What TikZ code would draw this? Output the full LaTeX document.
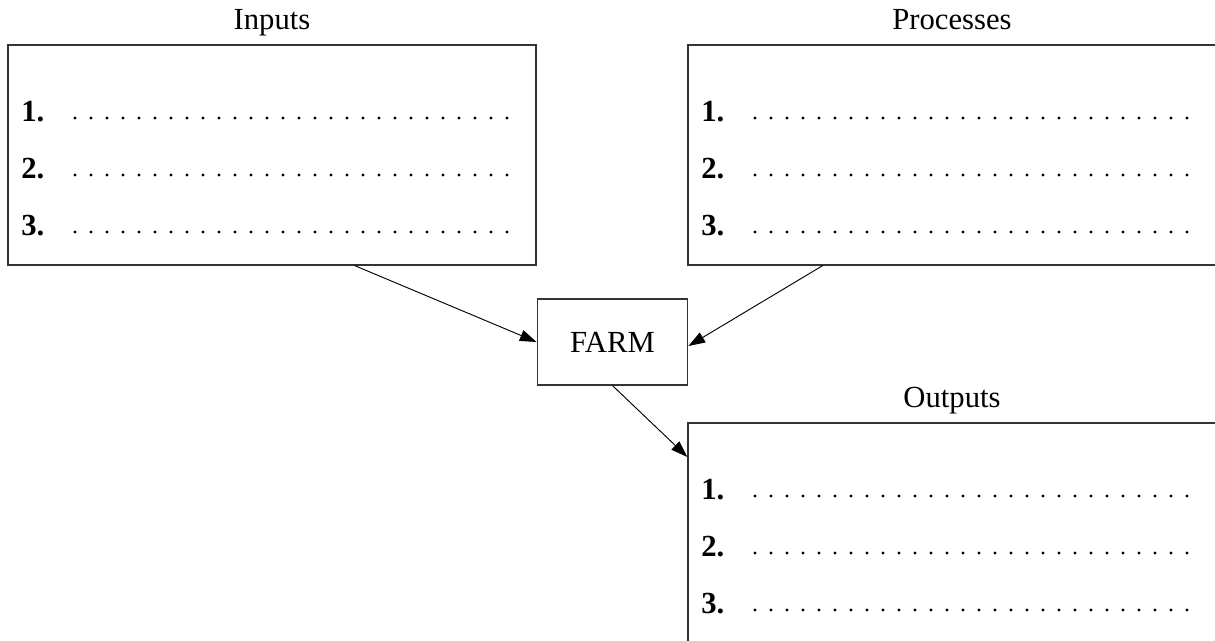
\documentclass[tikz,border=0pt]{standalone}
\usepackage{fontspec}
\setmainfont{Liberation Serif}
\usetikzlibrary{positioning, arrows.meta}

\tikzset{
  box/.style={draw=black!80, line width=0.9pt, minimum width=396pt, minimum height=165pt, inner sep=0pt},
  farmbox/.style={draw=black!80, line width=0.9pt, minimum width=113pt, minimum height=64.5pt},
  lbl/.style={anchor=base, inner sep=0pt},
  num/.style={anchor=base west, inner sep=0pt, font=\fontsize{23}{27}\selectfont\bfseries},
  dotrow/.style={line width=2.4pt, line cap=round, dash pattern=on 0pt off 12pt},
  arr/.style={-{Triangle[length=12.5pt,width=8.5pt]}, line width=0.7pt}
}

\begin{document}
\begin{tikzpicture}[x=0.75pt, y=-0.75pt, font=\fontsize{23}{27}\selectfont]
	\useasboundingbox (0,0) rectangle (1215,640);

	\node[box] (inputs) at (272,155) {};
	\node[box] (processes) at (952,155) {};
	\node[box] (outputs) at (952,533) {};
	\node[farmbox] (farm) at (612.5,342) {FARM};

	\node[lbl] (inlbl) at ([yshift=11pt]inputs.north) {Inputs};
	\node[lbl] (prlbl) at ([yshift=11pt]processes.north) {Processes};
	\node[lbl] (outlbl) at ([yshift=11pt]outputs.north) {Outputs};

	% inputs rows
	\node[num] (in1) at (21,121) {1.};
	\node[num] (in2) at (21,178) {2.};
	\node[num] (in3) at (21,235) {3.};
	\draw[dotrow] (75,118) -- (508,118);
	\draw[dotrow] (75,175) -- (508,175);
	\draw[dotrow] (75,232) -- (508,232);

	% processes rows
	\node[num] (pr1) at (701,121) {1.};
	\node[num] (pr2) at (701,178) {2.};
	\node[num] (pr3) at (701,235) {3.};
	\draw[dotrow] (755,118) -- (1188,118);
	\draw[dotrow] (755,175) -- (1188,175);
	\draw[dotrow] (755,232) -- (1188,232);

	% outputs rows
	\node[num] (out1) at (701,499) {1.};
	\node[num] (out2) at (701,556) {2.};
	\node[num] (out3) at (701,613) {3.};
	\draw[dotrow] (755,496) -- (1188,496);
	\draw[dotrow] (755,553) -- (1188,553);
	\draw[dotrow] (755,610) -- (1188,610);

	\draw[arr] ([xshift=62pt]inputs.south) -- (farm.west);
	\draw[arr] ([xshift=-97pt]processes.south) -- ([yshift=-3pt]farm.east);
	\draw[arr] (farm.south) -- ([yshift=57pt]outputs.west);
\end{tikzpicture}
\end{document}
